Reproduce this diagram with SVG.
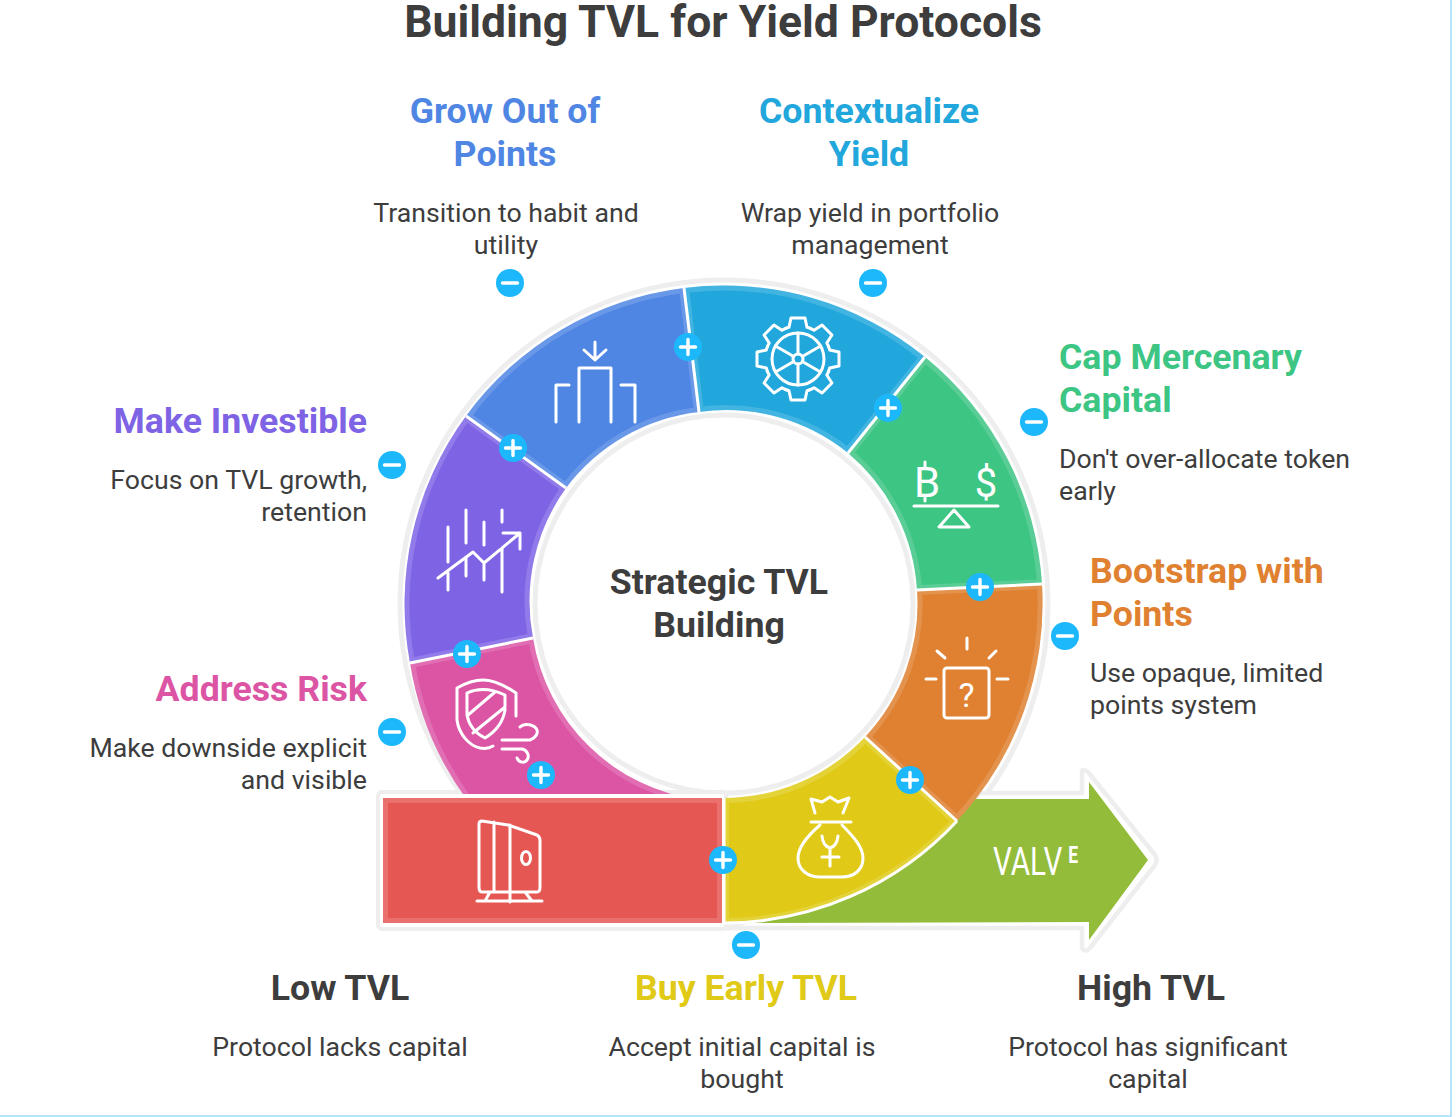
<svg xmlns="http://www.w3.org/2000/svg" width="1456" height="1117" viewBox="0 0 1456 1117">
<style>
text{font-family:Roboto,"Liberation Sans",sans-serif}
.title{font-size:44.500px;font-weight:700;fill:#3d3d3d}
.h{font-size:35.700px;font-weight:700}
.d{font-size:26.700px;fill:#3d3d3d}
.m{text-anchor:middle}.e{text-anchor:end}
.edge{fill:none;stroke:#fff;stroke-opacity:.15;stroke-width:10}
.ic{fill:none;stroke:#fff;stroke-width:3;stroke-linecap:round;stroke-linejoin:round}
.ict{fill:#fff;font-weight:400}
.sep{stroke:#fff;stroke-width:3;fill:none}
.halo{fill:none;stroke:#eeeeee;stroke-width:5}
.badge{fill:#1db8fb}
.sym{stroke:#fff;stroke-width:3.400;stroke-linecap:round;fill:none}
</style>
<defs>
<path id="p-blue" d="M684 288A319 319 0 0 0 466 416L566 488A194 194 0 0 1 699 412Z"/>
<path id="p-cyan" d="M684 288A319 319 0 0 1 925 357L848 453A194 194 0 0 0 699 412Z"/>
<path id="p-green" d="M925 357A319 319 0 0 1 1042 584L917 590A194 194 0 0 0 848 453Z"/>
<path id="p-orange" d="M1042 584A319 319 0 0 1 957 821L865 737A194 194 0 0 0 917 590Z"/>
<path id="p-yellow" d="M957 821A319 319 0 0 1 724 923V798A194 194 0 0 0 865 737Z"/>
<path id="p-purple" d="M466 416A319 319 0 0 0 410 663L533 638A194 194 0 0 1 566 488Z"/>
<path id="p-pink" d="M410 663A319 319 0 0 0 467 800H700A194 194 0 0 1 533 638Z"/>
<clipPath id="c-blue"><use href="#p-blue"/></clipPath>
<clipPath id="c-cyan"><use href="#p-cyan"/></clipPath>
<clipPath id="c-green"><use href="#p-green"/></clipPath>
<clipPath id="c-orange"><use href="#p-orange"/></clipPath>
<clipPath id="c-yellow"><use href="#p-yellow"/></clipPath>
<clipPath id="c-purple"><use href="#p-purple"/></clipPath>
<clipPath id="c-pink"><use href="#p-pink"/></clipPath>
<path id="tooth" d="M-12.600 -30.500A33 33 0 0 1 -9 -31.700L-7 -41H7L9 -31.700A33 33 0 0 1 12.600 -30.500"/>
<g id="plus"><circle class="badge" r="14"/><path class="sym" d="M-7.500 0H7.500M0 -7.500V7.500"/></g>
<g id="minus"><circle class="badge" r="14"/><path class="sym" d="M-7.500 0H7.500"/></g>
</defs>
<rect width="1456" height="1117" fill="#fff"/>
<path d="M1451 0V1116H0" fill="none" stroke="#9fdcfb" stroke-width="1.500"/>
<text class="title m" x="723" y="37">Building TVL for Yield Protocols</text>

<g id="ring-halo">
<circle class="halo" cx="724" cy="604" r="324"/>
<circle class="halo" cx="724" cy="604" r="189"/>
</g>
<g id="node-arrow">
<path d="M724 928H1082V948Q1085 953 1090 948L1155 865Q1158 860 1155 855L1088 772Q1082 768 1082 772V793H980L900 880Z" fill="#fff" stroke="#eeeeee" stroke-width="4.500" stroke-linejoin="round"/>
<path d="M724 923Q860 923 975 799H1089V782L1148 860L1089 940V922Z" fill="#93bc3a"/>
<g transform="translate(993 875) scale(.76 1)"><text font-size="39" font-weight="400" fill="#fff">VALV<tspan dx="7.600" dy="-12" font-size="23" font-weight="700">E</tspan></text></g>
</g>
<rect id="low-halo" x="376" y="790" width="352" height="141" rx="6" fill="#eeeeee"/>

<g id="node-purple">
<use href="#p-purple" fill="#7e63e5"/><use href="#p-purple" class="edge" clip-path="url(#c-purple)"/>
<path class="ic" d="M448 527V562M448 573V590M466 510V543M466 558V576M484 522V545M484 562V580M502 510V522M502 548V592M438 578L473 552L484 563L520 533M503 533H520V549"/>
</g>
<g id="node-blue">
<use href="#p-blue" fill="#4f86e4"/><use href="#p-blue" class="edge" clip-path="url(#c-blue)"/>
<path class="ic" d="M595 342V360M584 350L595 360L606 350M579 422V368H611V422M556 422V385H569M635 422V385H621"/>
</g>
<g id="node-cyan">
<use href="#p-cyan" fill="#22a7dc"/><use href="#p-cyan" class="edge" clip-path="url(#c-cyan)"/>
<g class="ic" transform="translate(798 359)">
<use href="#tooth"/><use href="#tooth" transform="rotate(45)"/><use href="#tooth" transform="rotate(90)"/><use href="#tooth" transform="rotate(135)"/><use href="#tooth" transform="rotate(180)"/><use href="#tooth" transform="rotate(225)"/><use href="#tooth" transform="rotate(270)"/><use href="#tooth" transform="rotate(315)"/>
<circle r="26"/><circle r="5"/>
<path d="M0 -5V-26M0 5V26M4.300 -2.500L22.500 -13M-4.300 -2.500L-22.500 -13M4.300 2.500L22.500 13M-4.300 2.500L-22.500 13"/>
</g>
</g>
<g id="node-green">
<use href="#p-green" fill="#3cc583"/><use href="#p-green" class="edge" clip-path="url(#c-green)"/>
<text class="ict m" x="927" y="497" font-size="42">B</text>
<text class="ict m" x="986" y="497" font-size="40">$</text>
<path class="ic" d="M925 462V467M925 497V501M914 506H998M954 510L939 527H969Z"/>
</g>
<g id="node-orange">
<use href="#p-orange" fill="#df8130"/><use href="#p-orange" class="edge" clip-path="url(#c-orange)"/>
<rect class="ic" x="944" y="668" width="45" height="50" rx="3"/>
<path class="ic" d="M967 638V649M937 651L945 658M996 651L989 658M926 679H936M997 679H1008"/>
<text class="ict m" x="966.500" y="707" font-size="34">?</text>
</g>
<g id="node-pink">
<use href="#p-pink" fill="#dc55a5"/><use href="#p-pink" class="edge" clip-path="url(#c-pink)"/>
<path class="ic" d="M516 716V693C504 685 494 680 483 680C472 680 464 684 457 688V720C459 735 470 746 480 748C486 749 490 748 493 746"/>
<path class="ic" d="M467 693C478 688 490 688 505 695V710C503 722 495 732 485 738C475 733 469 726 467 715ZM468 715L495 692M473 733L505 707"/>
<path class="ic" d="M502 740H530C536 738 538 733 537 730C535 725 525 722 520 727M502 749H522C527 750 529 755 528 758C526 764 519 763 517 758"/>
</g>
<g id="node-yellow">
<use href="#p-yellow" fill="#e0ca17"/><use href="#p-yellow" class="edge" clip-path="url(#c-yellow)"/>
<path class="ic" d="M811 822H851M815 813L811 799L822 802L830 797L838 802L849 798L843 813M820 825C805 838 798 848 798 858C798 870 808 877 820 877H842C854 877 863 870 863 858C863 848 855 838 842 825M822 836Q823 846 830 848Q837 846 838 836M830 848V866M822 857H839"/>
</g>
<g id="node-low">
<rect x="380" y="794" width="344" height="133" rx="2" fill="#fff"/>
<rect x="383" y="798" width="339" height="125" fill="#e55753"/>
<rect x="385.500" y="800.500" width="334" height="120" fill="none" stroke="#fff" stroke-opacity=".15" stroke-width="5"/>
<path class="ic" d="M482 821L508 825L537 835Q540 837 540 840V887Q540 892 537 892H482Q479 892 479 887V824Q479 821 482 821ZM494 822V892M510 825V902M477 901H542M490 892L485 901M525 892L532 901"/>
<ellipse class="ic" cx="526" cy="858" rx="4.500" ry="6.500"/>
</g>
<g id="connectors">
<path class="sep" d="M684 288L699 412M925 357L848 453M1042 584L917 590M957 821L865 737M724 798V923M466 416L566 488M410 663L533 638"/>
<path d="M724 923A319 319 0 0 0 957 821" fill="none" stroke="#fff" stroke-width="3"/>
</g>
<g id="toggles">
<use href="#plus" x="688" y="347"/><use href="#plus" x="888" y="408"/><use href="#plus" x="980" y="587"/><use href="#plus" x="910" y="780"/><use href="#plus" x="723" y="860"/><use href="#plus" x="541" y="775"/><use href="#plus" x="467" y="654"/><use href="#plus" x="513" y="448"/>
<use href="#minus" x="510" y="283"/><use href="#minus" x="873" y="283"/><use href="#minus" x="1034" y="422"/><use href="#minus" x="1065" y="636"/><use href="#minus" x="746" y="945"/><use href="#minus" x="392" y="732"/><use href="#minus" x="392" y="465"/>
</g>
<g id="label-center"><text class="h m" x="719" y="594" fill="#3d3d3d">Strategic TVL</text><text class="h m" x="719" y="637" fill="#3d3d3d">Building</text></g>
<g id="label-grow"><text class="h m" x="505" y="123" fill="#4f86e4">Grow Out of</text><text class="h m" x="505" y="166" fill="#4f86e4">Points</text><text class="d m" x="506" y="222">Transition to habit and</text><text class="d m" x="506" y="254">utility</text></g>
<g id="label-context"><text class="h m" x="869" y="123" fill="#22a7dc">Contextualize</text><text class="h m" x="869" y="166" fill="#22a7dc">Yield</text><text class="d m" x="870" y="222">Wrap yield in portfolio</text><text class="d m" x="870" y="254">management</text></g>
<g id="label-cap"><text class="h" x="1059" y="369" fill="#3cc583">Cap Mercenary</text><text class="h" x="1059" y="412" fill="#3cc583">Capital</text><text class="d" x="1059" y="468">Don't over-allocate token</text><text class="d" x="1059" y="500">early</text></g>
<g id="label-boot"><text class="h" x="1090" y="583" fill="#df8130">Bootstrap with</text><text class="h" x="1090" y="626" fill="#df8130">Points</text><text class="d" x="1090" y="682">Use opaque, limited</text><text class="d" x="1090" y="714">points system</text></g>
<g id="label-make"><text class="h e" x="367" y="433" fill="#7e63e5">Make Investible</text><text class="d e" x="367" y="489">Focus on TVL growth,</text><text class="d e" x="367" y="521">retention</text></g>
<g id="label-risk"><text class="h e" x="367" y="701" fill="#dc55a5">Address Risk</text><text class="d e" x="367" y="757">Make downside explicit</text><text class="d e" x="367" y="789">and visible</text></g>
<g id="label-low"><text class="h m" x="340" y="1000" fill="#3d3d3d">Low TVL</text><text class="d m" x="340" y="1056">Protocol lacks capital</text></g>
<g id="label-buy"><text class="h m" x="746" y="1000" fill="#e0ca17">Buy Early TVL</text><text class="d m" x="742" y="1056">Accept initial capital is</text><text class="d m" x="742" y="1088">bought</text></g>
<g id="label-high"><text class="h m" x="1151" y="1000" fill="#3d3d3d">High TVL</text><text class="d m" x="1148" y="1056">Protocol has significant</text><text class="d m" x="1148" y="1088">capital</text></g>
</svg>
